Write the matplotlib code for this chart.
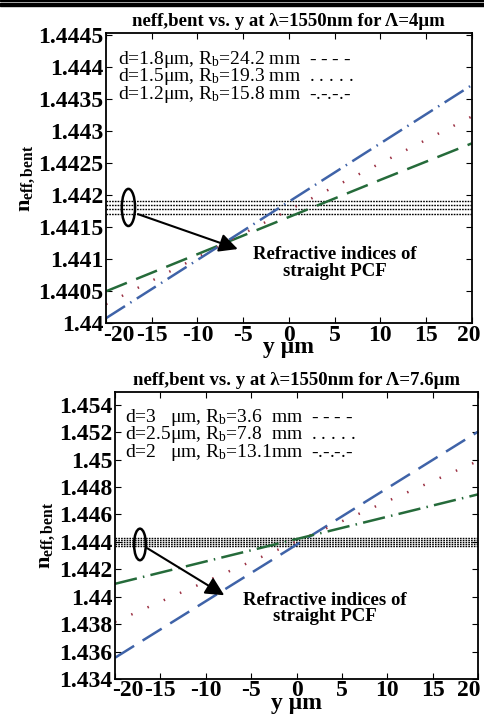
import matplotlib
matplotlib.use('Agg')
import matplotlib.pyplot as plt
import matplotlib.transforms as mtransforms
from matplotlib.patches import Ellipse, Rectangle

plt.rcParams['font.family'] = ['Liberation Serif', 'DejaVu Serif']
plt.rcParams['mathtext.fontset'] = 'custom'
plt.rcParams['mathtext.rm'] = 'Liberation Serif'
plt.rcParams['mathtext.it'] = 'Liberation Serif:italic'
plt.rcParams['mathtext.bf'] = 'Liberation Serif:bold'

# lateral offset y (um) where n_eff,bent was sampled
y_um = [-20, -10, 0, 10, 20]

# Lambda = 4 um
n_top_d18 = [1.44050, 1.44108, 1.44166, 1.44224, 1.44281]
n_top_d15 = [1.44030, 1.44103, 1.44177, 1.44250, 1.44323]
n_top_d12 = [1.44008, 1.44099, 1.44190, 1.44281, 1.44372]
n_top_straight = [1.441911, 1.441848, 1.441786, 1.441708]
labels_top = [r'd=1.8μm, R$_\mathregular{b}$=24.2 mm  - - - -',
              r'd=1.5μm, R$_\mathregular{b}$=19.3 mm  . . . . .',
              r'd=1.2μm, R$_\mathregular{b}$=15.8 mm  -.-.-.-']

# Lambda = 7.6 um
n_bot_d3 = [1.43555, 1.43967, 1.44379, 1.44791, 1.45203]
n_bot_d25 = [1.43817, 1.44110, 1.44403, 1.44696, 1.44989]
n_bot_d2 = [1.44094, 1.44257, 1.44420, 1.44583, 1.44746]
n_bot_straight = [1.44368, 1.44383, 1.44398, 1.44413, 1.44427]
labels_bot = [r'd=3   μm, R$_\mathregular{b}$=3.6  mm  - - - -',
              r'd=2.5μm, R$_\mathregular{b}$=7.8  mm  . . . . .',
              r'd=2   μm, R$_\mathregular{b}$=13.1mm  -.-.-.-']

blue = '#3f63a8'
red = '#9c3244'
green = '#256b3a'

dash = (0, (9, 4))
dashdot = (0, (9, 2.5, 0.6, 2.5))
dot = (0, (0.6, 6.5))
straight_style = (0, (1.2, 0.8))

fig = plt.figure(figsize=(4.85, 7.18), dpi=100)
fig.patches.append(Rectangle((0, 1 - 1.0 / 718), 1, 1.0 / 718, transform=fig.transFigure,
                             color='black', zorder=10))
fig.patches.append(Rectangle((0, 1 - 5.6 / 718), 1, 3.0 / 718, transform=fig.transFigure,
                             color='black', zorder=10))

ax1 = fig.add_axes([0.2186, 0.5497, 0.754, 0.4039])
ax2 = fig.add_axes([0.2371, 0.0543, 0.7485, 0.3993])


def style_axes(ax, yticks, yticklabels, last_shift):
    ax.set_xlim(-20, 20)
    ax.set_xticks(range(-20, 21, 5))
    ax.set_xticklabels([str(v) for v in range(-20, 21, 5)])
    ax.set_yticks(yticks)
    ax.set_yticklabels(yticklabels)
    ax.tick_params(direction='in', length=4, width=0.8, top=True, right=True,
                   labelsize=17, pad=2)
    ax.tick_params(axis='x', pad=1)
    for lab in ax.get_xticklabels() + ax.get_yticklabels():
        lab.set_fontweight('bold')
    # end labels pushed inward so they clear the y labels and the figure edge
    xl = ax.get_xticklabels()
    xl[0].set_horizontalalignment('left')
    xl[0].set_transform(xl[0].get_transform() +
                        mtransforms.ScaledTranslation(-2 / 72, 0, fig.dpi_scale_trans))
    xl[-1].set_horizontalalignment('right')
    xl[-1].set_transform(xl[-1].get_transform() +
                         mtransforms.ScaledTranslation(last_shift / 72, 0, fig.dpi_scale_trans))
    for sp in ax.spines.values():
        sp.set_linewidth(1.3)
    ax.set_xlabel('y μm', fontsize=17, fontweight='bold', labelpad=-6)
    ax.set_ylabel(r'$\mathbf{n}_{\mathbf{eff,bent}}$', fontsize=16, labelpad=1)


# top panel
for v in n_top_straight:
    ax1.axhline(v, color='black', lw=1.0, ls=straight_style)
ax1.plot(y_um, n_top_d18, color=green, lw=1.8, ls=dash)
ax1.plot(y_um, n_top_d15, color=red, lw=1.8, ls=dot)
ax1.plot(y_um, n_top_d12, color=blue, lw=1.8, ls=dashdot)
ax1.add_patch(Ellipse((-17.55, 1.44181), 1.45, 0.00058, fill=False, lw=1.8, color='black'))
ax1.annotate('', xy=(-5.3, 1.441146), xytext=(-16.8, 1.44172),
             arrowprops=dict(arrowstyle='-|>', color='black', lw=1.5, mutation_scale=28))
ax1.text(5.0, 1.44094, 'Refractive indices of\nstraight PCF', ha='center', va='center',
         fontsize=13.5, fontweight='bold', linespacing=0.95)
for i, lab in enumerate(labels_top):
    ax1.text(-18.7, 1.44412 - i * 0.00027, lab, ha='left', va='center', fontsize=14)
ax1.set_ylim(1.44, 1.44453)
style_axes(ax1, [1.44 + 0.0005 * k for k in range(10)],
           ['1.44', '1.4405', '1.441', '1.4415', '1.442', '1.4425', '1.443',
            '1.4435', '1.444', '1.4445'], 6)
ax1.set_title('neff,bent vs. y at λ=1550nm for Λ=4μm', fontsize=13.5, fontweight='bold', pad=5)

# bottom panel
for v in n_bot_straight:
    ax2.axhline(v, color='black', lw=1.0, ls=straight_style)
ax2.plot(y_um, n_bot_d3, color=blue, lw=1.8, ls=dash)
ax2.plot(y_um, n_bot_d25, color=red, lw=1.8, ls=dot)
ax2.plot(y_um, n_bot_d2, color=green, lw=1.8, ls=dashdot)
ax2.add_patch(Ellipse((-17.25, 1.44381), 1.3, 0.0023, fill=False, lw=1.8, color='black'))
ax2.annotate('', xy=(-7.7, 1.4400), xytext=(-16.7, 1.44364),
             arrowprops=dict(arrowstyle='-|>', color='black', lw=1.5, mutation_scale=28))
ax2.text(3.1, 1.43915, 'Refractive indices of\nstraight PCF', ha='center', va='center',
         fontsize=13.5, fontweight='bold', linespacing=0.95)
for i, lab in enumerate(labels_bot):
    ax2.text(-18.9, 1.45310 - i * 0.00128, lab, ha='left', va='center', fontsize=14)
ax2.set_ylim(1.434, 1.4549)
style_axes(ax2, [1.434 + 0.002 * k for k in range(11)],
           ['1.434', '1.436', '1.438', '1.44', '1.442', '1.444', '1.446', '1.448',
            '1.45', '1.452', '1.454'], 1.5)
ax2.set_title('neff,bent vs. y at λ=1550nm for Λ=7.6μm', fontsize=13.5, fontweight='bold', pad=5)

fig.savefig('out.png', dpi=100)
